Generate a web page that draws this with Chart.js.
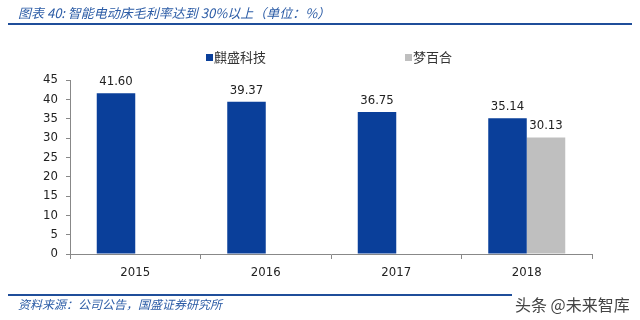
<!DOCTYPE html>
<html>
<head>
<meta charset="utf-8">
<script src="https://cdn.jsdelivr.net/npm/chart.js@4"></script>
<style>
  body { margin: 0; background: #fff; }
  #wrap { position: relative; width: 640px; height: 320px; overflow: hidden; }
  canvas { position: absolute; left: 0; top: 0; }
  .title { position: absolute; left: 18px; top: 3px; font: italic 13px "Noto Sans CJK SC"; color: #2c5ca6; white-space: nowrap; }
  .rule { position: absolute; left: 8px; width: 624px; height: 2px; background: #1f4e9a; }
  .legend { position: absolute; top: 47px; font: 13px "Noto Sans CJK SC"; color: #333; white-space: nowrap; }
  .legend i { display: inline-block; width: 7px; height: 7px; margin-right: 1px; vertical-align: 1px; }
  .source { position: absolute; left: 18px; top: 295px; font: italic 12px "Noto Sans CJK SC"; color: #2c5ca6; white-space: nowrap; }
  .mark { position: absolute; left: 512px; top: 292px; font: 16px "Noto Sans CJK SC"; color: #444; background: #fff; padding: 0 3px; white-space: nowrap; }
</style>
</head>
<body>
<div id="wrap">
  <canvas id="marginChart" width="640" height="320"></canvas>
  <div class="title">图表 40: 智能电动床毛利率达到 30%以上（单位：%）</div>
  <div class="rule" style="top:23px"></div>
  <div id="legend"></div>
  <div class="rule" style="top:294px"></div>
  <div class="source">资料来源：公司公告，国盛证券研究所</div>
  <div class="mark">头条 @未来智库</div>
</div>
<script>
const years = ['2015', '2016', '2017', '2018'];
const seriesNames = ['麒盛科技', '梦百合'];
const qishengValues = [41.60, 39.37, 36.75, 35.14];
const mlilyValues = [null, null, null, 30.13];
const seriesColors = ['#0a3f9a', '#bfbfbf'];
const legendLeft = [206, 405];

// legend, built from the series names
const legendBox = document.getElementById('legend');
seriesNames.forEach((name, i) => {
  const item = document.createElement('div');
  item.className = 'legend';
  item.style.left = legendLeft[i] + 'px';
  item.innerHTML = `<i style="background:${seriesColors[i]}"></i>${name}`;
  legendBox.appendChild(item);
});

// value labels above bars
const valueLabels = {
  id: 'valueLabels',
  afterDatasetsDraw(chart) {
    const ctx = chart.ctx;
    ctx.save();
    ctx.font = '13px "DejaVu Sans Condensed"';
    ctx.fillStyle = '#222';
    ctx.textAlign = 'center';
    ctx.textBaseline = 'bottom';
    chart.data.datasets.forEach((ds, i) => {
      chart.getDatasetMeta(i).data.forEach((bar, j) => {
        const v = ds.data[j];
        if (v == null) return;
        ctx.fillText(v.toFixed(2), bar.x, bar.y - 5);
      });
    });
    ctx.restore();
  }
};

const ctx = document.getElementById('marginChart').getContext('2d');
new Chart(ctx, {
  type: 'bar',
  data: {
    labels: years,
    datasets: [
      { label: seriesNames[0], data: qishengValues, backgroundColor: seriesColors[0] },
      { label: seriesNames[1], data: mlilyValues, backgroundColor: seriesColors[1] }
    ]
  },
  options: {
    responsive: false,
    animation: false,
    categoryPercentage: 0.59,
    barPercentage: 1,
    layout: { padding: { left: 0, right: 48, top: 80, bottom: 0 } },
    plugins: {
      legend: { display: false },
      title: { display: false },
      tooltip: { enabled: false }
    },
    scales: {
      x: {
        afterFit: (s) => { s.height = 66; },
        grid: { drawOnChartArea: false, tickLength: 5, color: '#888' },
        border: { color: '#888' },
        ticks: { color: '#222', padding: 6, font: { family: 'DejaVu Sans Condensed', size: 13 } }
      },
      y: {
        min: 0,
        max: 45,
        afterFit: (s) => { s.width = 70; },
        grid: { drawOnChartArea: false, tickLength: 4, color: '#888' },
        border: { color: '#888' },
        ticks: { stepSize: 5, color: '#222', padding: 8, font: { family: 'DejaVu Sans Condensed', size: 13 } }
      }
    }
  },
  plugins: [valueLabels]
});
</script>
</body>
</html>
